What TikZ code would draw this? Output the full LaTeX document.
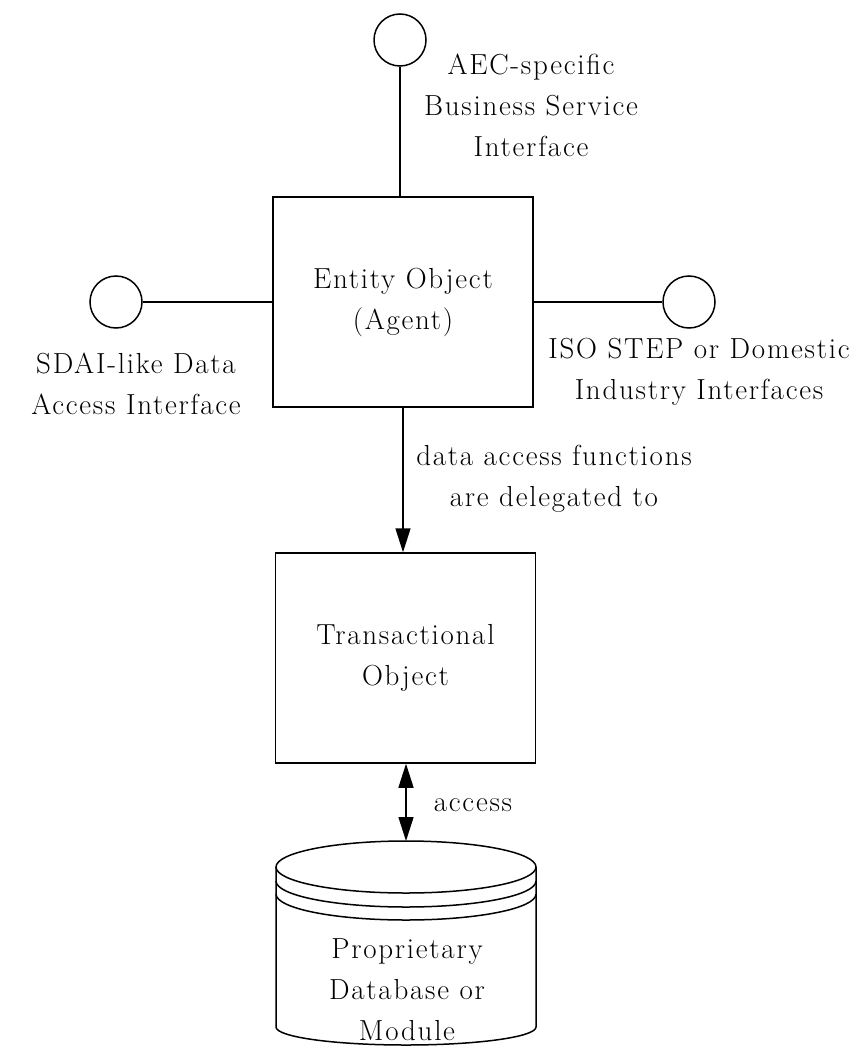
\documentclass[tikz,border=0pt]{standalone}
\usepackage{fontspec}
\setmainfont{Latin Modern Roman}[LetterSpace=6]
\usetikzlibrary{arrows.meta,calc}
\begin{document}
\begin{tikzpicture}[x=1pt,y=-1pt, line width=1.5pt,
  txt/.style={align=center, font=\fontsize{29}{41}\selectfont, inner sep=0pt},
  box/.style={draw, txt, minimum width=260pt, minimum height=210pt},
  iface/.style={draw, circle, minimum size=52pt, inner sep=0pt},
  lbl/.style={txt},
  tip/.style={-{Triangle[length=24pt,width=15pt]}},
  dtip/.style={{Triangle[length=24pt,width=15pt]}-{Triangle[length=24pt,width=15pt]}}]
\useasboundingbox (0,0) rectangle (861,1046);
% boxes
\node[box] (ent) at (403,302) {Entity Object\\(Agent)};
\node[box] (trans) at (405.5,658) {Transactional\\Object};
% interfaces
\node[iface] (tc) at (400,40) {};
\node[iface] (lc) at (116,302) {};
\node[iface] (rc) at (689,302) {};
\draw (tc) -- (tc |- ent.north);
\draw (lc) -- (lc -| ent.west);
\draw (rc) -- (rc -| ent.east);
% cylinder
\coordinate (cyltop) at (406,841);
\draw (406,867) ellipse [x radius=130pt, y radius=26pt];
\draw (276,881) arc[start angle=180, end angle=360, x radius=130pt, y radius=26pt];
\draw (276,894) arc[start angle=180, end angle=360, x radius=130pt, y radius=26pt];
\draw (276,867) -- (276,1027) arc[start angle=180, end angle=360, x radius=130pt, y radius=18pt] -- (536,867);
% connectors
\draw[tip] (ent.south) -- (ent.south |- trans.north);
\draw[dtip] (cyltop |- trans.south) -- (cyltop);
% labels
\node[lbl] (aec) at (531,105) {AEC-specific\\Business Service\\Interface};
\node[lbl] (sdai) at (136,384) {SDAI-like Data\\Access Interface};
\node[lbl] (iso) at (699,372) {ISO STEP or Domestic\\Industry Interfaces};
\node[lbl] (deleg) at (554,479) {data access functions\\are delegated to};
\node[lbl] (acc) at (473,805) {access};
\node[lbl] (db) at (407,990) {Proprietary\\Database or\\Module};
\end{tikzpicture}
\end{document}
